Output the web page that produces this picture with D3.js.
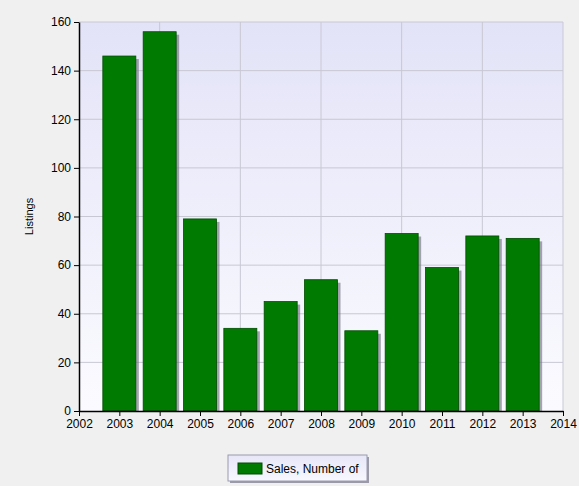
<!DOCTYPE html>
<html><head><meta charset="utf-8">
<script src="https://cdn.jsdelivr.net/npm/d3@7"></script>
<style>body{margin:0;background:#f0f0f0;font-family:"Liberation Sans",Arial,sans-serif;}</style>
</head><body><div id="chart"></div>
<script>
const years = [2003, 2004, 2005, 2006, 2007, 2008, 2009, 2010, 2011, 2012, 2013];
const sales = [146, 156, 79, 34, 45, 54, 33, 73, 59, 72, 71];
const yTicks = [0, 20, 40, 60, 80, 100, 120, 140, 160];
const xTicks = d3.range(2002, 2015);

const W = 579, H = 486;
const margin = {top: 22, right: 16, bottom: 75, left: 79};
const w = W - margin.left - margin.right, h = H - margin.top - margin.bottom;

const svg = d3.select("#chart").append("svg").attr("width", W).attr("height", H);
const defs = svg.append("defs");
const bg = defs.append("linearGradient").attr("id", "bg").attr("x1", 0).attr("y1", 0).attr("x2", 0).attr("y2", 1);
bg.append("stop").attr("offset", "0%").attr("stop-color", "#e3e3f8");
bg.append("stop").attr("offset", "100%").attr("stop-color", "#fbfbff");
const lg = defs.append("linearGradient").attr("id", "lg").attr("x1", 0).attr("y1", 0).attr("x2", 0).attr("y2", 1);
lg.append("stop").attr("offset", "0%").attr("stop-color", "#e6e6f8");
lg.append("stop").attr("offset", "100%").attr("stop-color", "#f8f8ff");

const g = svg.append("g").attr("transform", `translate(${margin.left},${margin.top})`);
const x = d3.scaleLinear().domain([2002, 2014]).range([0, w]);
const y = d3.scaleLinear().domain([0, 160]).range([h, 0]);

g.append("rect").attr("width", w).attr("height", h).attr("fill", "url(#bg)");

g.selectAll(".hg").data(yTicks.slice(1)).enter().append("line")
  .attr("x1", 0).attr("x2", w).attr("y1", d => y(d)).attr("y2", d => y(d))
  .attr("stroke", "#c8c8d4");
g.selectAll(".vg").data(xTicks.filter(d => d % 2 === 0 && d > 2002)).enter().append("line")
  .attr("x1", d => x(d)).attr("x2", d => x(d)).attr("y1", 0).attr("y2", h)
  .attr("stroke", "#c8c8d4");

const bw = 33;
g.selectAll(".shadow").data(years).enter().append("rect")
  .attr("x", d => x(d) - bw / 2 + 3).attr("y", (d, i) => y(sales[i]) + 3)
  .attr("width", bw).attr("height", (d, i) => h - y(sales[i]) - 3)
  .attr("fill", "#6a6a7a").attr("opacity", 0.6);
g.selectAll(".bar").data(years).enter().append("rect")
  .attr("x", d => x(d) - bw / 2).attr("y", (d, i) => y(sales[i]))
  .attr("width", bw).attr("height", (d, i) => h - y(sales[i]))
  .attr("fill", "#007a00").attr("stroke", "#004d00").attr("stroke-width", 0.8);

const ya = g.append("g").call(d3.axisLeft(y).tickValues(yTicks).tickSize(5).tickSizeOuter(0));
const xa = g.append("g").attr("transform", `translate(0,${h})`)
  .call(d3.axisBottom(x).tickValues(xTicks).tickFormat(d3.format("d")).tickSize(5).tickSizeOuter(0));
[ya, xa].forEach(a => {
  a.selectAll("path,line").attr("stroke", "#000");
  a.selectAll("text").attr("font-size", 12).attr("fill", "#000").attr("font-family", "Liberation Sans, Arial, sans-serif");
});
ya.select("path").attr("stroke-width", 1.5);
xa.select("path").attr("stroke-width", 1.5);

svg.append("text").attr("transform", `translate(33,${margin.top + h / 2}) rotate(-90)`)
  .attr("text-anchor", "middle").attr("font-size", 11).text("Listings");

const leg = svg.append("g").attr("transform", "translate(228,455)");
leg.append("rect").attr("x", 2).attr("y", 2).attr("width", 139).attr("height", 26).attr("fill", "#9a9aa8");
leg.append("rect").attr("width", 139).attr("height", 26).attr("fill", "url(#lg)").attr("stroke", "#9a9ab0");
leg.append("rect").attr("x", 10).attr("y", 8).attr("width", 24).attr("height", 11).attr("fill", "#007a00").attr("stroke", "#004d00");
leg.append("text").attr("x", 38).attr("y", 18).attr("font-size", 12).text("Sales, Number of");
</script></body></html>
